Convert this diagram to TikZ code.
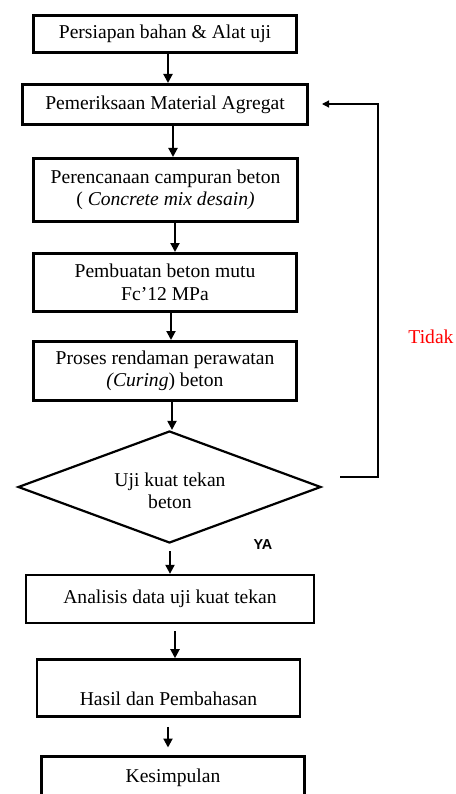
\documentclass[tikz,border=0pt]{standalone}
\usepackage{fontspec}
\setmainfont{Liberation Serif}
\newfontfamily\yafont{Liberation Sans}
\usetikzlibrary{arrows.meta,shapes.geometric}
\begin{document}
\begin{tikzpicture}[x=1pt,y=-1pt,
  txt/.style={font=\fontsize{19.6}{22.5}\selectfont, align=center},
  box/.style={draw, line width=3pt, inner sep=0pt, txt},
  dia/.style={draw, diamond, line width=2.2pt, inner sep=0pt},
  arr/.style={-{Triangle[length=9pt,width=9pt]}, line width=2pt},
  fb/.style={-{Triangle[length=7pt,width=7pt]}, line width=1.2pt}]
\useasboundingbox (0,0) rectangle (455,794);
\clip (0,0) rectangle (455,794);

\node[box, minimum width=263, minimum height=37] (b1) at (165,34) {Persiapan bahan \& Alat uji};
\node[box, minimum width=285, minimum height=40] (b2) at (165,104.5) {Pemeriksaan Material Agregat};
\node[box, minimum width=264, minimum height=63] (b3) at (165.5,190) {Perencanaan campuran beton\\( \textit{Concrete mix desain)}};
\node[box, minimum width=263, minimum height=58] (b4) at (165,282.5) {Pembuatan beton mutu\\Fc’12 MPa};
\node[box, minimum width=263, minimum height=59] (b5) at (165,371) {Proses rendaman perawatan\\\textit{(Curing}) beton};
\node[dia, minimum width=303, minimum height=112] (d) at (169.5,487) {};
\node[txt] (dt) at (170,491) {Uji kuat tekan\\beton};
\node[box, line width=2.3pt, minimum width=288, minimum height=48] (b6) at (170,599) {Analisis data uji kuat tekan};
\node[box, line width=2.6pt, minimum width=263, minimum height=57] (b7) at (168.5,688) {};
\node[txt] (t7) at (168.5,699) {Hasil dan Pembahasan};
\node[box, minimum width=263, minimum height=44] (b8) at (173,778) {Kesimpulan};

\draw[arr] ([xshift=3]b1.south) coordinate (a1) -- (a1 |- b2.north);
\draw[arr] ([xshift=8]b2.south) coordinate (a2) -- (a2 |- b3.north);
\draw[arr] ([xshift=9.5]b3.south) coordinate (a3) -- (a3 |- b4.north);
\draw[arr] ([xshift=6]b4.south) coordinate (a4) -- (a4 |- b5.north);
\draw[arr] ([xshift=7]b5.south) coordinate (a5) -- (a5 |- d.north);
\draw[arr, shorten <=7pt] ([xshift=0.5]d.south) coordinate (a6) -- (a6 |- b6.north);
\draw[arr, shorten <=7pt] ([xshift=5]b6.south) coordinate (a7) -- (a7 |- b7.north);
\draw[arr, shorten <=9pt, shorten >=7pt] ([xshift=-0.5]b7.south) coordinate (a8) -- (a8 |- b8.north);

\coordinate (f1) at (340,477);
\coordinate (f2) at (378,477);
\coordinate (f3) at (378,104);
\coordinate (f4) at (322,104);
\draw[fb] (f1) -- (f2) -- (f3) -- (f4);

\node[txt, text=red] (tidak) at (431,337) {Tidak};
\node[font=\yafont\bfseries\fontsize{14.4}{16}\selectfont] (ya) at (263,545) {YA};
\end{tikzpicture}
\end{document}
